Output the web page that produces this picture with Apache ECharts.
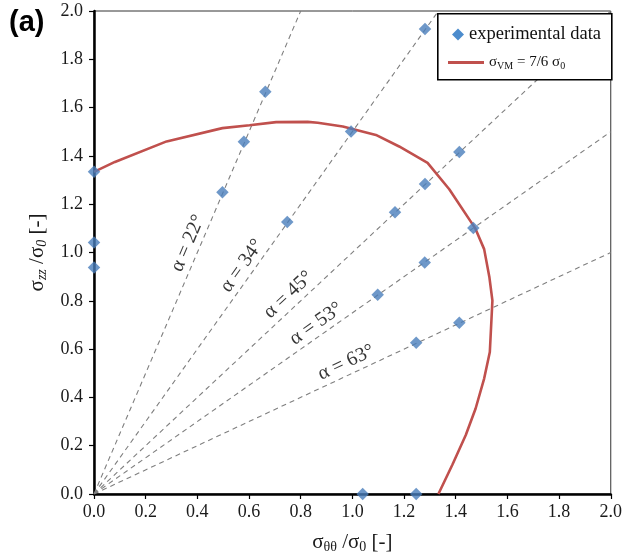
<!DOCTYPE html>
<html>
<head>
<meta charset="utf-8">
<script src="https://cdn.jsdelivr.net/npm/echarts@6/dist/echarts.min.js"></script>
<style>
html,body{margin:0;padding:0;background:#fff;}
#chart{width:625px;height:559px;}
</style>
</head>
<body>
<div id="chart"></div>
<script>
// ---- data ----
var xTicks = [0.0,0.2,0.4,0.6,0.8,1.0,1.2,1.4,1.6,1.8,2.0];
var yTicks = [0.0,0.2,0.4,0.6,0.8,1.0,1.2,1.4,1.6,1.8,2.0];

var experimentalData = [
  [0,1.334],[0,1.041],[0,0.938],
  [1.04,0],[1.247,0],
  [0.497,1.25],[0.58,1.459],[0.663,1.666],
  [0.748,1.126],[0.995,1.501],[1.281,1.925],
  [1.165,1.167],[1.281,1.284],[1.414,1.416],
  [1.098,0.825],[1.28,0.959],[1.468,1.101],
  [1.247,0.626],[1.414,0.709]
];

var vonMisesCurve = [
  [0,1.334],[0.081,1.375],[0.281,1.46],[0.497,1.515],[0.602,1.527],
  [0.705,1.540],[0.827,1.541],[0.866,1.537],[0.963,1.522],[1.091,1.487],
  [1.181,1.439],[1.291,1.371],[1.375,1.262],[1.475,1.101],[1.510,1.014],
  [1.530,0.900],[1.542,0.801],[1.532,0.588],[1.510,0.478],[1.477,0.354],
  [1.439,0.244],[1.387,0.121],[1.333,0]
];

var rayOrigin = [0,0];
var rayEnds = [[0.8,2.0],[1.333,2.0],[2.0,2.0],[2.0,1.5],[2.0,1.0]];
var rayLabels = ['α = 22°','α = 34°','α = 45°','α = 53°','α = 63°'];
// label anchors (data coords) and rotation
var rayLabelAnchors = [[0.364,1.038],[0.573,0.945],[0.753,0.825],[0.860,0.705],[0.976,0.544]];
var rayLabelRotate = [66.9,54.6,43.1,35.1,25.1];

var seriesNames = ['experimental data','vonMises'];

// ---- chart ----
var serif = "'Liberation Serif','Times New Roman',serif";
var chart = echarts.init(document.getElementById('chart'), null, {renderer:'canvas'});

var series = [];
rayEnds.forEach(function(end, i){
  series.push({
    type:'line', name:'ray'+i, data:[rayOrigin, end], symbol:'none', silent:true,
    lineStyle:{color:'#7f7f7f', width:1.1, type:[5,4]}, z:1, animation:false
  });
});
series.push({
  type:'line', name:seriesNames[1], data:vonMisesCurve, symbol:'none', showSymbol:false, smooth:false,
  lineStyle:{color:'#C0504D', width:2.6}, itemStyle:{color:'#C0504D'}, z:2, animation:false
});
series.push({
  type:'scatter', name:seriesNames[0], data:experimentalData, symbol:'diamond', symbolSize:12.5,
  itemStyle:{color:'#4A7EBB'}, z:3, clip:false, animation:false
});
series.push({
  type:'scatter', name:'labels', symbolSize:0, silent:true, animation:false, z:2,
  data: rayLabelAnchors.map(function(p,i){
    return {value:p, label:{show:true, position:'inside', rotate:rayLabelRotate[i], formatter:rayLabels[i]}};
  }),
  label:{show:true, color:'#000', fontFamily:serif, fontSize:20}
});

var axisCommon = {
  type:'value', min:0, max:2, interval:0.2,
  splitLine:{show:false},
  axisLine:{show:true, onZero:false, lineStyle:{color:'#000', width:2.5}},
  axisTick:{show:true, inside:false, length:5, lineStyle:{color:'#000', width:1.2}},
  axisLabel:{color:'#1a1a1a', fontFamily:serif, fontSize:18, formatter:function(v){return v.toFixed(1);}}
};

var option = {
  backgroundColor:'#fff',
  animation:false,
  title:{text:'(a)', left:4, top:3, textStyle:{fontFamily:"'Liberation Sans',Arial,sans-serif", fontWeight:'bold', fontSize:29, color:'#000'}},
  grid:{left:94, right:13, top:11, bottom:63, show:true, borderColor:'#333', borderWidth:1, backgroundColor:'transparent'},
  xAxis: Object.assign({}, axisCommon, {
    axisLabel: Object.assign({}, axisCommon.axisLabel, {margin:9}),
    name:'{s|σ}{sub|θθ}{s| /σ}{sub|0}{s| [-]}', nameLocation:'middle', nameGap:36,
    nameTextStyle:{rich:{
      s:{fontFamily:serif, fontSize:21, color:'#1a1a1a', lineHeight:24},
      sub:{fontFamily:serif, fontSize:14, color:'#1a1a1a', verticalAlign:'bottom', lineHeight:16}
    }}
  }),
  yAxis: Object.assign({}, axisCommon, {
    axisLabel: Object.assign({}, axisCommon.axisLabel, {margin:11}),
    name:'{s|σ}{sub|zz}{s| /σ}{sub|0}{s| [-]}', nameLocation:'middle', nameGap:45, nameRotate:90,
    nameTextStyle:{rich:{
      s:{fontFamily:serif, fontSize:21, color:'#1a1a1a', lineHeight:24},
      sub:{fontFamily:serif, fontSize:14, fontStyle:'italic', color:'#1a1a1a', verticalAlign:'bottom', lineHeight:16}
    }}
  }),
  graphic:[{
    type:'rect', left:437, top:13, z:3,
    shape:{width:174, height:66},
    style:{fill:'#fff', stroke:'#000', lineWidth:1.6}
  }],
  legend:[{
    data:[{name:seriesNames[0], icon:'diamond', itemStyle:{color:'#1F6FC0'}}],
    left:447, top:20, itemWidth:12, itemHeight:12, itemGap:0, z:5,
    textStyle:{fontFamily:serif, fontSize:18.5, color:'#111'}, selectedMode:false
  },{
    data:[{name:seriesNames[1], icon:'rect'}],
    left:443, top:50, itemWidth:36, itemHeight:3, z:5,
    formatter:function(){return '{s|σ}{sub|VM}{s| = 7/6 σ}{sub|0}';},
    textStyle:{fontFamily:serif, fontSize:15, color:'#111', rich:{
      s:{fontFamily:serif, fontSize:15, color:'#111', lineHeight:18},
      sub:{fontFamily:serif, fontSize:10, color:'#111', verticalAlign:'bottom', lineHeight:13}
    }}, selectedMode:false
  }],
  series:series
};
chart.setOption(option);
</script>
</body>
</html>
